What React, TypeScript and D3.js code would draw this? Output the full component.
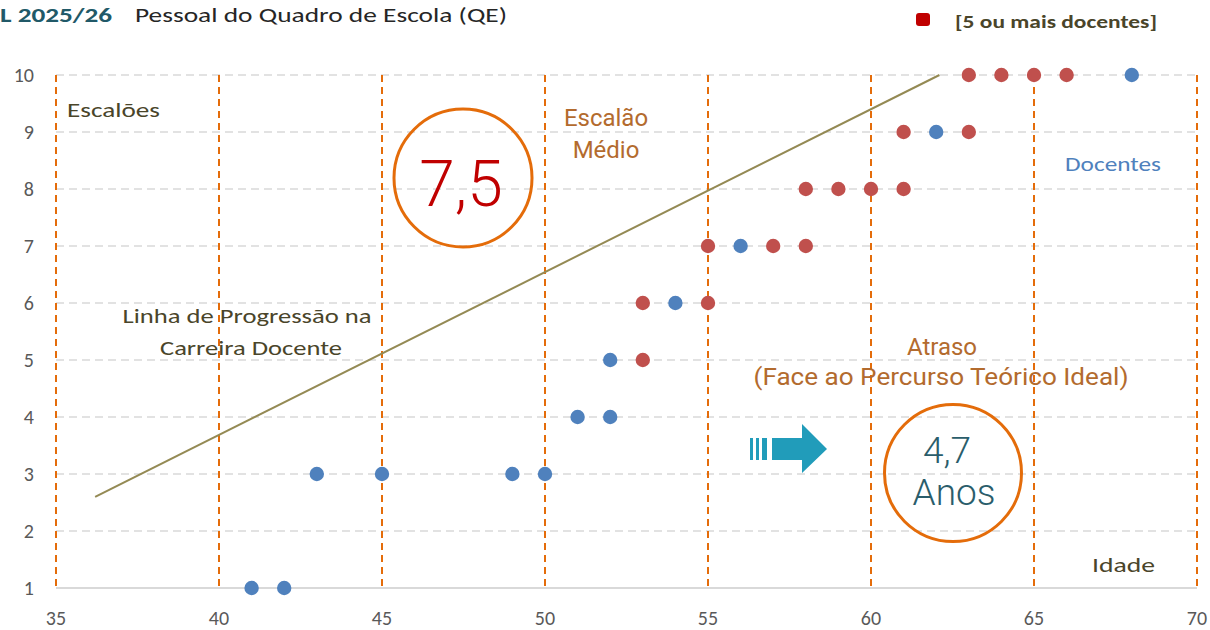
import React from "react";
import * as d3 from "d3";

const levelTicks = [1, 2, 3, 4, 5, 6, 7, 8, 9, 10];
const ageTicks = [35, 40, 45, 50, 55, 60, 65, 70];

// [5 ou mais docentes]
const redAge = [63, 64, 65, 66, 61, 63, 58, 59, 60, 61, 55, 57, 58, 53, 55, 53];
const redLevel = [10, 10, 10, 10, 9, 9, 8, 8, 8, 8, 7, 7, 7, 6, 6, 5];

// Docentes
const blueAge = [68, 62, 56, 54, 52, 51, 52, 43, 45, 49, 50, 41, 42];
const blueLevel = [10, 9, 7, 6, 5, 4, 4, 3, 3, 3, 3, 1, 1];

// Linha de Progressão na Carreira Docente
const trendAge = [36.2, 62.1];
const trendLevel = [2.6, 10];

const W = 1210;
const H = 630;

const calibri = "Carlito, Calibri, Lato, 'Open Sans', sans-serif";
const roboto = "Roboto, 'Noto Sans', sans-serif";
const olive = "#4A452A";
const brown = "#B36B2E";
const orange = "#E46C0A";

export default function App() {
  const x = d3.scaleLinear().domain([35, 70]).range([56, 1197]);
  const y = d3.scaleLinear().domain([1, 10]).range([588, 75]);
  const line = d3
    .line<number>()
    .x((_, i) => x(trendAge[i]))
    .y((_, i) => y(trendLevel[i]));

  const ax = 750;
  const ay = 449;
  const arrowPath = `M${ax + 22},${ay - 11} L${ax + 52},${ay - 11} L${ax + 52},${ay - 25} L${ax + 77},${ay} L${ax + 52},${ay + 24} L${ax + 52},${ay + 11} L${ax + 22},${ay + 11} Z`;

  return (
    <svg
      width={W}
      height={H}
      style={{ position: "absolute", left: 0, top: 0, background: "#fff" }}
    >
      {levelTicks.map((t) =>
        t === 1 ? (
          <line key={t} x1={x(35)} x2={x(70)} y1={y(t)} y2={y(t)} stroke="#D9D9D9" strokeWidth={2} />
        ) : (
          <line
            key={t}
            x1={x(35)}
            x2={x(70)}
            y1={y(t)}
            y2={y(t)}
            stroke="#D9D9D9"
            strokeWidth={1.5}
            strokeDasharray="8,5"
          />
        )
      )}
      {ageTicks.map((t) => (
        <line
          key={t}
          x1={x(t)}
          x2={x(t)}
          y1={y(10)}
          y2={y(1)}
          stroke={orange}
          strokeWidth={2}
          strokeDasharray="7,5"
        />
      ))}
      {levelTicks.map((t) => (
        <text key={t} x={34} y={y(t) + 7} textAnchor="end" fontFamily={calibri} fontSize={20} fill="#595959">
          {t}
        </text>
      ))}
      {ageTicks.map((t) => (
        <text key={t} x={x(t)} y={625} textAnchor="middle" fontFamily={calibri} fontSize={20} fill="#595959">
          {t}
        </text>
      ))}

      <path d={line(trendAge) || ""} fill="none" stroke="#948A54" strokeWidth={2} />

      {blueAge.map((a, i) => (
        <circle key={"b" + i} cx={x(a)} cy={y(blueLevel[i])} r={7.2} fill="#4F81BD" />
      ))}
      {redAge.map((a, i) => (
        <circle key={"r" + i} cx={x(a)} cy={y(redLevel[i])} r={7.2} fill="#C0504D" />
      ))}

      <text x={0} y={22} fontFamily={calibri} fontWeight={700} fontSize={20} fill="#215968" textLength={112} lengthAdjust="spacingAndGlyphs">
        L 2025/26
      </text>
      <text x={135} y={22} fontFamily={calibri} fontSize={21} fill="#262626" textLength={372} lengthAdjust="spacingAndGlyphs">
        Pessoal do Quadro de Escola (QE)
      </text>

      <rect x={916} y={13} width={14} height={13} rx={3} fill="#C00000" />
      <text x={955} y={28} fontFamily={calibri} fontWeight={700} fontSize={19} fill={olive} textLength={202} lengthAdjust="spacingAndGlyphs">
        [5 ou mais docentes]
      </text>

      <text x={67} y={117} fontFamily={calibri} fontSize={21} fill={olive} textLength={93} lengthAdjust="spacingAndGlyphs">
        Escalões
      </text>
      <text x={606} y={126} textAnchor="middle" fontFamily={roboto} fontSize={24} fill={brown}>
        Escalão
      </text>
      <text x={606} y={158} textAnchor="middle" fontFamily={roboto} fontSize={24} fill={brown}>
        Médio
      </text>

      <circle cx={463} cy={178} r={69} fill="none" stroke={orange} strokeWidth={3} />
      <text x={461} y={206} textAnchor="middle" fontFamily={roboto} fontWeight={300} fontSize={64} fill="#C00000">
        7,5
      </text>

      <text x={1065} y={171} fontFamily={calibri} fontSize={21} fill="#4F81BD" textLength={96} lengthAdjust="spacingAndGlyphs">
        Docentes
      </text>

      <text x={247} y={323} textAnchor="middle" fontFamily={calibri} fontSize={21} fill={olive} textLength={249} lengthAdjust="spacingAndGlyphs">
        Linha de Progressão na
      </text>
      <text x={251} y={355} textAnchor="middle" fontFamily={calibri} fontSize={21} fill={olive} textLength={182} lengthAdjust="spacingAndGlyphs">
        Carreira Docente
      </text>

      <text x={942} y={355} textAnchor="middle" fontFamily={roboto} fontSize={24} fill={brown}>
        Atraso
      </text>
      <text x={941} y={385} textAnchor="middle" fontFamily={roboto} fontSize={24} fill={brown} textLength={375} lengthAdjust="spacingAndGlyphs">
        (Face ao Percurso Teórico Ideal)
      </text>

      <rect x={750} y={438} width={3} height={22} fill="#219CBA" />
      <rect x={756} y={438} width={3} height={22} fill="#219CBA" />
      <rect x={762} y={438} width={5} height={22} fill="#219CBA" />
      <path d={arrowPath} fill="#219CBA" />

      <circle cx={953} cy={473} r={68.5} fill="none" stroke={orange} strokeWidth={3} />
      <text x={947} y={463} textAnchor="middle" fontFamily={roboto} fontWeight={300} fontSize={37} fill="#2A5D6B">
        4,7
      </text>
      <text x={954} y={505} textAnchor="middle" fontFamily={roboto} fontWeight={300} fontSize={37} fill="#2A5D6B">
        Anos
      </text>

      <text x={1092} y={572} fontFamily={calibri} fontSize={21} fill={olive} textLength={63} lengthAdjust="spacingAndGlyphs">
        Idade
      </text>
    </svg>
  );
}
